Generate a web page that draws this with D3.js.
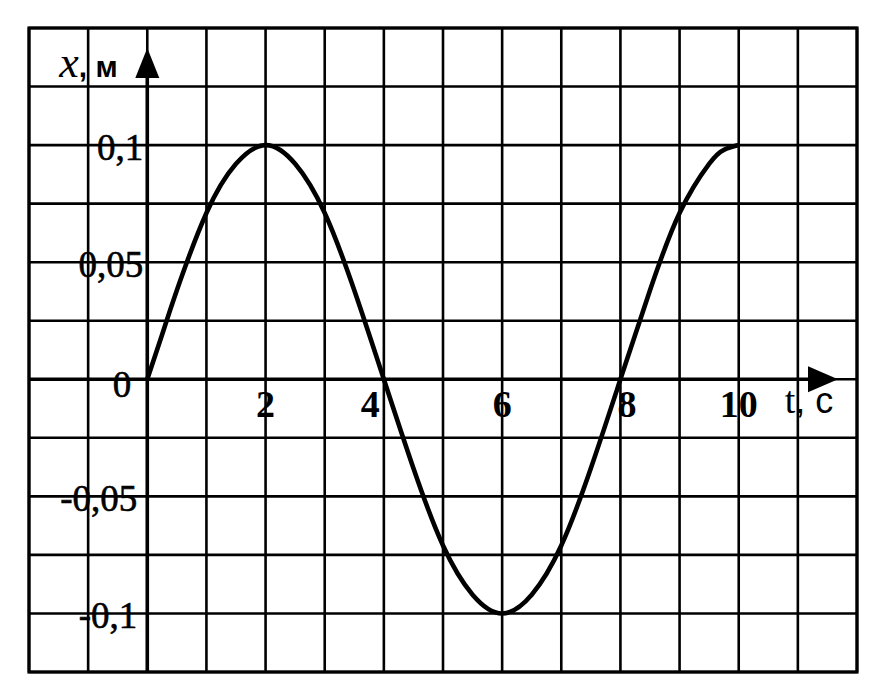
<!DOCTYPE html>
<html><head><meta charset="utf-8">
<script src="https://cdn.jsdelivr.net/npm/d3@7"></script>
<style>body{margin:0;background:#fff}svg{display:block}</style>
</head><body>
<svg id="c" width="881" height="700"></svg>
<script>
// Data
const tValues = [0,0.25,0.5,1,1.5,2,2.5,3,3.5,4,4.5,5,5.5,6,6.5,7,7.5,8,8.5,9,9.5,9.75,10];
const xValues = [0,0.019,0.038,0.071,0.092,0.1,0.092,0.071,0.038,0,-0.038,-0.071,-0.092,-0.1,-0.092,-0.071,-0.038,0,0.038,0.071,0.092,0.098,0.1];
const xGridTicks = [-2,-1,0,1,2,3,4,5,6,7,8,9,10,11,12];
const yGridTicks = [-0.125,-0.1,-0.075,-0.05,-0.025,0,0.025,0.05,0.075,0.1,0.125,0.15];
const tTickValues = [2,4,6,8,10];
const tTickLabels = ["2","4","6","8","10"];
const yTickValues = [0.1,0.05,0,-0.05,-0.1];
const yTickLabels = ["0,1","0,05","0","-0,05","-0,1"];

const svg = d3.select("#c");
const x = d3.scaleLinear().domain([-2,12]).range([29,857]);
const y = d3.scaleLinear().domain([-0.125,0.15]).range([672,28]);

const g = svg.append("g");
// grid
g.selectAll("line.v").data(xGridTicks).join("line").attr("class","v")
  .attr("x1",d=>x(d)).attr("x2",d=>x(d)).attr("y1",y(0.15)).attr("y2",y(-0.125))
  .attr("stroke","#000").attr("stroke-width",2.6);
g.selectAll("line.h").data(yGridTicks).join("line").attr("class","h")
  .attr("y1",d=>y(d)).attr("y2",d=>y(d)).attr("x1",x(-2)).attr("x2",x(12))
  .attr("stroke","#000").attr("stroke-width",2.6);
// border
g.append("rect").attr("x",x(-2)).attr("y",y(0.15)).attr("width",x(12)-x(-2)).attr("height",y(-0.125)-y(0.15))
  .attr("fill","none").attr("stroke","#000").attr("stroke-width",3.2);

// axes
const yTip = y(0.15)+20, xTip = x(12)-19;
g.append("line").attr("x1",x(0)).attr("x2",x(0)).attr("y1",y(-0.125)).attr("y2",yTip+20)
  .attr("stroke","#000").attr("stroke-width",3.6);
g.append("path").attr("d",`M${x(0)},${yTip} L${x(0)-12},${yTip+30} L${x(0)+12},${yTip+30} Z`).attr("fill","#000");
g.append("line").attr("x1",x(-2)).attr("x2",xTip-20).attr("y1",y(0)).attr("y2",y(0))
  .attr("stroke","#000").attr("stroke-width",3.6);
g.append("path").attr("d",`M${xTip},${y(0)} L${xTip-30},${y(0)-13} L${xTip-30},${y(0)+13} Z`).attr("fill","#000");

// curve
const pts = tValues.map((t,i)=>[t,xValues[i]]);
const line = d3.line().x(d=>x(d[0])).y(d=>y(d[1])).curve(d3.curveNatural);
g.append("path").datum(pts).attr("d",line)
  .attr("fill","none").attr("stroke","#000").attr("stroke-width",4.6).attr("stroke-linejoin","round");

// tick labels
const serif = "'Liberation Serif','DejaVu Serif',serif";
g.selectAll("text.t").data(tTickValues).join("text").attr("class","t")
  .attr("x",d=>x(d)+(d===4?-4:d===8?-3:0))
  .attr("y",y(0)+38)
  .attr("text-anchor",d=>d===4?"end":d===8?"start":"middle")
  .attr("font-family",serif).attr("font-size",38).attr("font-weight","bold")
  .text((d,i)=>tTickLabels[i]);
g.selectAll("text.y").data(yTickValues).join("text").attr("class","y")
  .attr("x",d=>x(0)+(d===0?-16:d<0?-10:-4))
  .attr("y",d=>y(d)+(d===0?18:15))
  .attr("text-anchor","end")
  .attr("font-family",serif).attr("font-size",37)
  .attr("stroke","#000").attr("stroke-width",0.6)
  .text((d,i)=>yTickLabels[i]);

// axis titles
const yt = g.append("text").attr("x",x(0)-88).attr("y",y(0.15)+49);
yt.append("tspan").attr("font-family",serif).attr("font-style","italic").attr("font-size",44).text("x");
yt.append("tspan").attr("font-family","'Liberation Sans',Arial,sans-serif").attr("font-weight","bold").attr("font-size",30).text(", м");
const xt = g.append("text").attr("x",x(10)+46).attr("y",y(0)+34);
xt.append("tspan").attr("font-family",serif).attr("font-size",38).text("t");
xt.append("tspan").attr("font-family","'Liberation Sans',Arial,sans-serif").attr("font-size",36).text(", с");
</script>
</body></html>
